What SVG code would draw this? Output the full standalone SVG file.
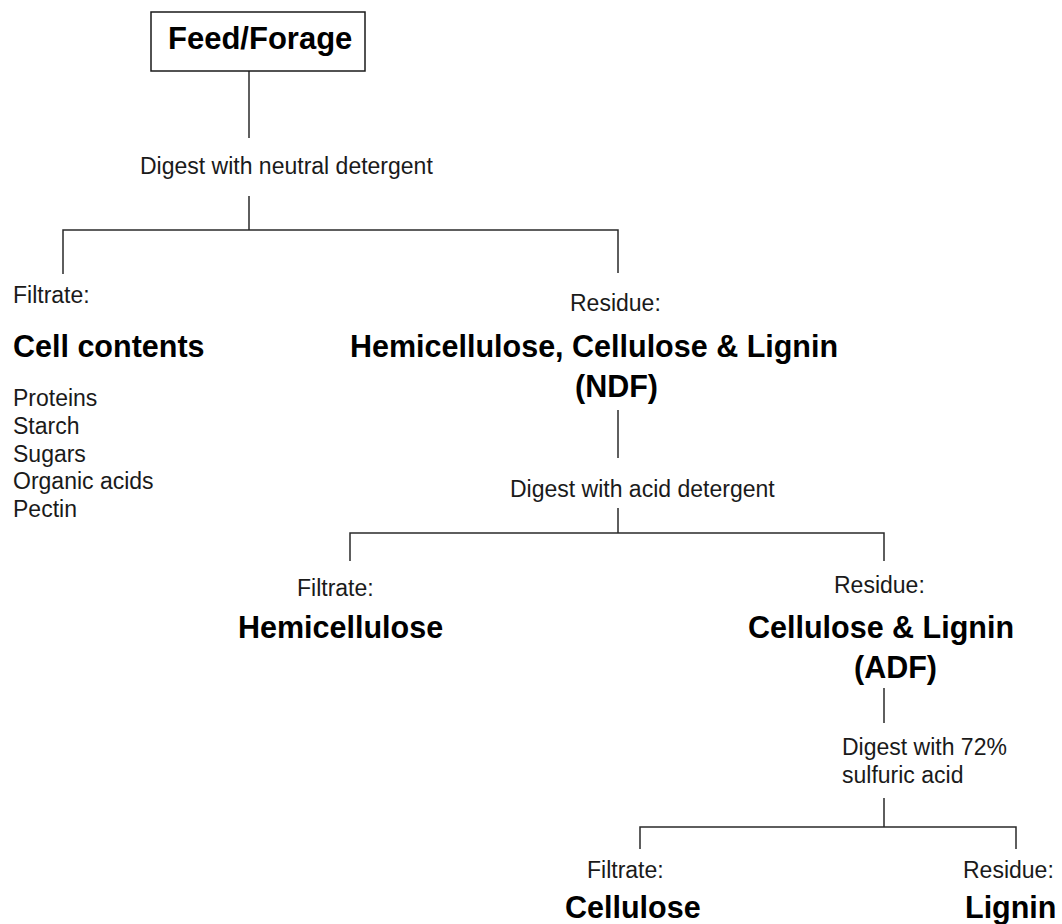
<svg xmlns="http://www.w3.org/2000/svg" width="1062" height="924" viewBox="0 0 1062 924">
  <style>
    .n { font-family: "Liberation Sans", Arial, sans-serif; font-size: 23px; fill: #1a1a1a; }
    .b { font-family: "Liberation Sans", Arial, sans-serif; font-size: 30.5px; font-weight: bold; fill: #000; }
    .ln { stroke: #2a2a2a; stroke-width: 1.5; fill: none; }
  </style>
  <rect width="1062" height="924" fill="#fff"/>
  <g id="connectors" class="ln">
    <path d="M249 71 V138"/>
    <path d="M249 196 V230 M63 274 V230 H618 V273"/>
    <path d="M618 410 V458"/>
    <path d="M618 508 V533 M350 561 V533 H884 V561"/>
    <path d="M884 688 V723"/>
    <path d="M884 798 V827 M640 849 V827 H1016 V849"/>
  </g>
  <g id="feed">
    <rect x="151" y="12" width="214" height="59" fill="#fff" stroke="#1a1a1a" stroke-width="1.5"/>
    <text class="b" x="168" y="49" style="font-size:31px">Feed/Forage</text>
  </g>
  <g id="digest-neutral">
    <text class="n" x="140" y="174">Digest with neutral detergent</text>
  </g>
  <g id="cell-contents">
    <text class="n" x="13" y="303">Filtrate:</text>
    <text class="b" x="13" y="357">Cell contents</text>
    <text class="n" x="13" y="406">Proteins</text>
    <text class="n" x="13" y="434">Starch</text>
    <text class="n" x="13" y="462">Sugars</text>
    <text class="n" x="13" y="489">Organic acids</text>
    <text class="n" x="13" y="517">Pectin</text>
  </g>
  <g id="ndf">
    <text class="n" x="570" y="311">Residue:</text>
    <text class="b" x="350" y="357">Hemicellulose, Cellulose &amp; Lignin</text>
    <text class="b" x="575" y="397">(NDF)</text>
  </g>
  <g id="digest-acid">
    <text class="n" x="510" y="497">Digest with acid detergent</text>
  </g>
  <g id="hemicellulose">
    <text class="n" x="297" y="596">Filtrate:</text>
    <text class="b" x="238" y="638">Hemicellulose</text>
  </g>
  <g id="adf">
    <text class="n" x="834" y="593">Residue:</text>
    <text class="b" x="748" y="638">Cellulose &amp; Lignin</text>
    <text class="b" x="854" y="678">(ADF)</text>
  </g>
  <g id="digest-sulfuric">
    <text class="n" x="842" y="755">Digest with 72%</text>
    <text class="n" x="842" y="783">sulfuric acid</text>
  </g>
  <g id="cellulose">
    <text class="n" x="587" y="878">Filtrate:</text>
    <text class="b" x="565" y="918">Cellulose</text>
  </g>
  <g id="lignin">
    <text class="n" x="963" y="878">Residue:</text>
    <text class="b" x="965" y="918">Lignin</text>
  </g>
</svg>
